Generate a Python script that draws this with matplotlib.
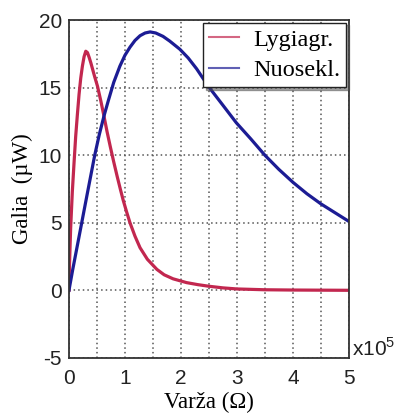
import matplotlib
matplotlib.use("Agg")
import matplotlib.pyplot as plt
import numpy as np

plt.rcParams["axes.unicode_minus"] = False
plt.rcParams["mathtext.fontset"] = "custom"
plt.rcParams["mathtext.rm"] = "Liberation Sans"

# values (x in units of 1e5 ohm, y in microwatts)
parallel_x = [0, 0.01, 0.03, 0.06, 0.09, 0.12, 0.15, 0.18, 0.21, 0.24, 0.27,
              0.30, 0.33, 0.36, 0.39, 0.42, 0.46, 0.51, 0.57, 0.625, 0.68,
              0.74, 0.80, 0.86, 0.92, 0.97, 1.03, 1.09, 1.18, 1.27, 1.4,
              1.57, 1.7, 1.86, 2.1, 2.3, 2.5, 2.75, 3.0, 3.5, 4.0, 4.5, 5.0]
parallel_y = [0, 2.0, 4.6, 7.3, 9.4, 11.4, 13.0, 14.5, 15.7, 16.6, 17.3,
              17.7, 17.6, 17.25, 16.85, 16.4, 15.8, 15.1, 14.0, 12.9, 11.75,
              10.6, 9.5, 8.45, 7.45, 6.65, 5.8, 5.0, 4.0, 3.15, 2.3,
              1.55, 1.15, 0.85, 0.57, 0.42, 0.3, 0.18, 0.1, 0.04, 0.02, 0.01, 0]

series_x = [0, 0.07, 0.135, 0.2, 0.26, 0.32, 0.39, 0.46, 0.54, 0.625, 0.70,
            0.80, 0.91, 1.0, 1.09, 1.18, 1.27, 1.36, 1.45, 1.55, 1.68, 1.8,
            1.98, 2.13, 2.28, 2.49, 2.75, 2.99, 3.25, 3.5, 3.75, 4.0, 4.25,
            4.5, 4.75, 5.0]
series_y = [0, 1.6, 3.0, 4.4, 5.7, 7.0, 8.5, 10.0, 11.5, 12.9, 14.0,
            15.4, 16.6, 17.4, 18.0, 18.5, 18.85, 19.05, 19.13, 19.05, 18.8, 18.45,
            17.85, 17.2, 16.4, 15.1, 13.7, 12.4, 11.2, 10.0, 8.95, 8.0, 7.15,
            6.4, 5.75, 5.1]

labels = ["Lygiagr.", "Nuosekl."]
x_ticks = [0, 1, 2, 3, 4, 5]
y_ticks = [-5, 0, 5, 10, 15, 20]

fig = plt.figure(figsize=(4.01, 4.2), dpi=100)
ax = fig.add_axes([0.172, 0.148, 0.698, 0.804])

ax.plot(parallel_x, parallel_y, color="#c2274f", lw=2.3, label=labels[0],
        solid_joinstyle="round")
ax.plot(series_x, series_y, color="#1c1c94", lw=2.3, label=labels[1],
        solid_joinstyle="round")

ax.set_xlim(0, 5)
ax.set_ylim(-5, 20)
ax.set_xticks(x_ticks)
ax.set_yticks(y_ticks)
ax.set_xticks(np.arange(0.5, 5, 1), minor=True)
ax.grid(True, which="both", color="#555555", linestyle=(0, (1, 2)), linewidth=1.1)
ax.tick_params(which="both", direction="in", length=0, top=True, right=True)
ax.tick_params(axis="x", labelsize=15, pad=8)
ax.tick_params(axis="y", labelsize=15, pad=5)
for lab in ax.get_xticklabels() + ax.get_yticklabels():
    lab.set_family("Liberation Sans")
    lab.set_color("#222222")
for sp in ax.spines.values():
    sp.set_color("#333333")
    sp.set_linewidth(1.3)

ax.set_xlabel("Varža (Ω)", family="Liberation Serif", fontsize=16.5, labelpad=3)
ax.set_ylabel("Galia  (µW)", family="Liberation Serif", fontsize=16.5, labelpad=4)

ax.text(1.01, -0.005, "x10$^{5}$", transform=ax.transAxes, ha="left", va="bottom",
        family="Liberation Sans", fontsize=15, color="#222222")

leg = ax.legend(loc="upper right", prop={"family": "Liberation Serif", "size": 17.5},
                fancybox=False, shadow=True, framealpha=1, edgecolor="#222222",
                handlelength=1.2, handletextpad=0.6, borderpad=0.25,
                labelspacing=0.35, borderaxespad=0.1)
for line in leg.get_lines():
    line.set_linewidth(1.5)
    line.set_alpha(0.7)

fig.savefig("out.png", dpi=100)
